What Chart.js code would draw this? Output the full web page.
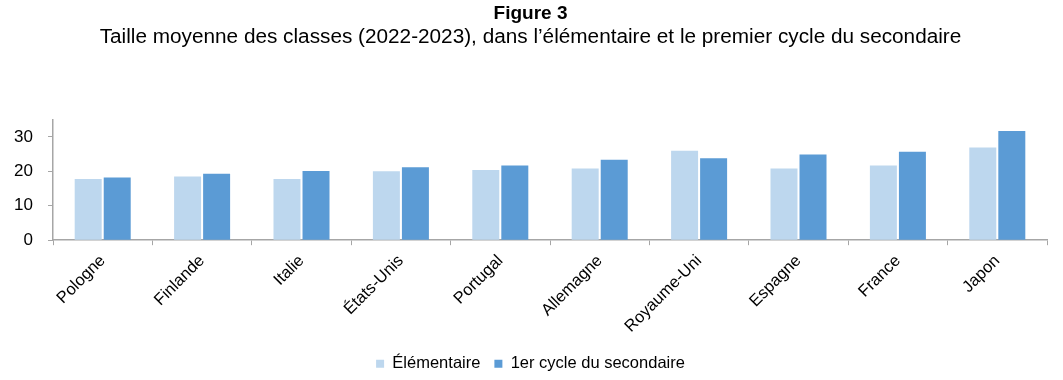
<!DOCTYPE html>
<html><head><meta charset="utf-8">
<script src="https://cdn.jsdelivr.net/npm/chart.js@4"></script>
<style>html,body{margin:0;padding:0;background:#fff;}#wrap{width:1063px;height:380px;}</style>
</head><body><div id="wrap"><canvas id="c"></canvas></div>
<script>
const categories = ['Pologne','Finlande','Italie','États-Unis','Portugal','Allemagne','Royaume-Uni','Espagne','France','Japon'];
const elementaire = [17.8, 18.5, 17.8, 20.0, 20.4, 20.8, 26.0, 20.8, 21.7, 26.9];
const secondaire = [18.2, 19.3, 20.1, 21.2, 21.7, 23.4, 23.8, 24.9, 25.7, 31.7];
const yTicks = [0, 10, 20, 30];
const seriesNames = ['Élémentaire', '1er cycle du secondaire'];
const titleText = 'Figure 3';
const subtitleText = 'Taille moyenne des classes (2022-2023), dans l\u2019élémentaire et le premier cycle du secondaire';

const font = 'Liberation Sans, Arial, sans-serif';
new Chart(document.getElementById('c'), {
  type: 'bar',
  data: {
    labels: categories,
    datasets: [
      {label: seriesNames[0], data: elementaire, backgroundColor: '#BDD7EE', borderColor: '#BDD7EE', borderWidth: 0},
      {label: seriesNames[1], data: secondaire, backgroundColor: '#5B9BD5', borderColor: '#5B9BD5', borderWidth: 0}
    ]
  },
  options: {
    responsive: true, maintainAspectRatio: false, animation: false,
    layout: {padding: {left: 14, right: 16, top: 0, bottom: -2}},
    datasets: {bar: {categoryPercentage: 0.584, barPercentage: 0.93}},
    plugins: {
      title: {display: true, text: titleText, color: '#000', font: {family: font, size: 19, weight: 'bold'}, padding: {top: 2, bottom: 0}},
      subtitle: {display: true, text: subtitleText, color: '#000', font: {family: font, size: 20.75}, padding: {top: 0, bottom: 70}},
      legend: {position: 'bottom', labels: {color: '#000', font: {family: font, size: 16.5}, boxWidth: 8, boxHeight: 8, padding: 14}},
      tooltip: {enabled: false}
    },
    scales: {
      x: {
        afterFit: (axis) => { axis.height = axis.height - 1; },
        grid: {display: true, drawOnChartArea: false, drawTicks: true, tickLength: 5, color: '#A6A6A6', offset: true},
        border: {display: true, color: '#A6A6A6', width: 1.5},
        ticks: {color: '#000', font: {family: font, size: 16.5}, minRotation: 45, maxRotation: 45, padding: 6}
      },
      y: {
        min: 0, max: 35,
        afterBuildTicks: (axis) => { axis.ticks = yTicks.map(v => ({value: v})); },
        afterFit: (axis) => { axis.width = 39; },
        grid: {display: true, drawOnChartArea: false, drawTicks: true, tickLength: 5, color: '#A6A6A6'},
        border: {display: true, color: '#A6A6A6', width: 1.5},
        ticks: {color: '#000', font: {family: font, size: 17}, padding: 15}
      }
    }
  }
});
</script></body></html>
